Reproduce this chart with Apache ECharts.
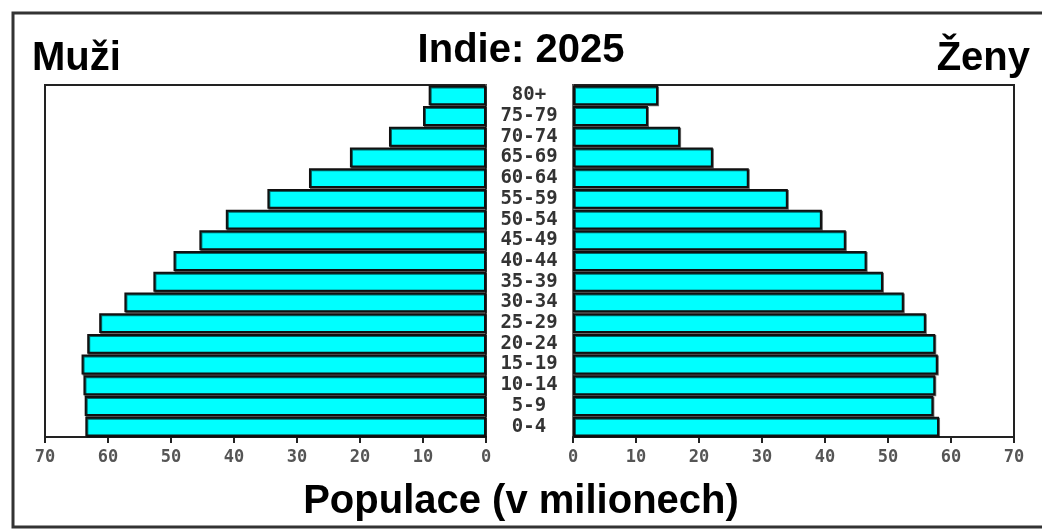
<!DOCTYPE html>
<html>
<head>
<meta charset="utf-8">
<script src="https://cdn.jsdelivr.net/npm/echarts@6/dist/echarts.min.js"></script>
<style>
html,body{margin:0;padding:0;background:#fff;}
#c{width:1042px;height:529px;}
</style>
</head>
<body>
<div id="c"></div>
<script>
const ageGroups = ['0-4','5-9','10-14','15-19','20-24','25-29','30-34','35-39','40-44','45-49','50-54','55-59','60-64','65-69','70-74','75-79','80+'];
const maleValues = [63.6, 63.7, 63.9, 64.2, 63.3, 61.4, 57.4, 52.8, 49.6, 45.5, 41.3, 34.7, 28.1, 21.6, 15.4, 10.0, 9.1];
const femaleValues = [58.1, 57.2, 57.5, 57.9, 57.5, 56.0, 52.5, 49.2, 46.6, 43.3, 39.5, 34.1, 27.9, 22.2, 17.0, 11.9, 13.5];
const xTicks = [0, 10, 20, 30, 40, 50, 60, 70];

const chart = echarts.init(document.getElementById('c'));
const tickFont = {fontFamily: 'DejaVu Sans Mono', fontWeight: 'bold', fontSize: 17, color: '#555'};
const titleFont = {fontFamily: 'Liberation Sans', fontWeight: 'bold', fontSize: 40, color: '#000'};
const barStyle = {color: '#00FFFF', borderColor: '#111', borderWidth: 2, shadowColor: 'rgba(0,0,0,0.6)', shadowOffsetX: 1, shadowOffsetY: 1, shadowBlur: 0};

chart.setOption({
  animation: false,
  backgroundColor: '#fff',
  title: [
    {text: 'Indie: 2025', left: 'center', top: 26, textStyle: titleFont},
    {text: 'Muži', left: 27, top: 34, textStyle: titleFont},
    {text: 'Ženy', right: 7, top: 34, textStyle: titleFont},
    {text: 'Populace (v milionech)', left: 'center', top: 477, textStyle: titleFont}
  ],
  graphic: [
    {type: 'rect', shape: {x: 13, y: 13, width: 1060, height: 514}, style: {fill: 'none', stroke: '#333', lineWidth: 3}, z: -1}
  ],
  grid: [
    {left: 45, right: 1042 - 486, top: 85, bottom: 529 - 437, show: true, borderColor: '#222', borderWidth: 2, backgroundColor: '#fff'},
    {left: 573, right: 1042 - 1014, top: 85, bottom: 529 - 437, show: true, borderColor: '#222', borderWidth: 2, backgroundColor: '#fff'}
  ],
  xAxis: [
    {gridIndex: 0, type: 'value', inverse: true, min: 0, max: 70, interval: 10,
     axisLine: {show: true, lineStyle: {color: '#222', width: 2}},
     axisTick: {show: true, length: 6, lineStyle: {color: '#222', width: 2}},
     splitLine: {show: false},
     axisLabel: Object.assign({margin: 12, formatter: v => xTicks.includes(v) ? String(v) : ''}, tickFont)},
    {gridIndex: 1, type: 'value', min: 0, max: 70, interval: 10,
     axisLine: {show: true, lineStyle: {color: '#222', width: 2}},
     axisTick: {show: true, length: 6, lineStyle: {color: '#222', width: 2}},
     splitLine: {show: false},
     axisLabel: Object.assign({margin: 12, formatter: v => xTicks.includes(v) ? String(v) : ''}, tickFont)}
  ],
  yAxis: [
    {gridIndex: 0, type: 'category', data: ageGroups, position: 'right',
     axisLine: {show: true, lineStyle: {color: '#666', width: 2}}, axisTick: {show: false}, axisLabel: {show: false}},
    {gridIndex: 1, type: 'category', data: ageGroups, position: 'left',
     axisLine: {show: true, lineStyle: {color: '#666', width: 2}}, axisTick: {show: false},
     axisLabel: {show: true, align: 'center', margin: 44, fontFamily: 'DejaVu Sans Mono', fontWeight: 'bold', fontSize: 19, color: '#333', interval: 0}}
  ],
  series: [
    {type: 'bar', xAxisIndex: 0, yAxisIndex: 0, data: maleValues, barCategoryGap: '4%', itemStyle: barStyle},
    {type: 'bar', xAxisIndex: 1, yAxisIndex: 1, data: femaleValues, barCategoryGap: '4%', itemStyle: barStyle}
  ]
});
</script>
</body>
</html>
